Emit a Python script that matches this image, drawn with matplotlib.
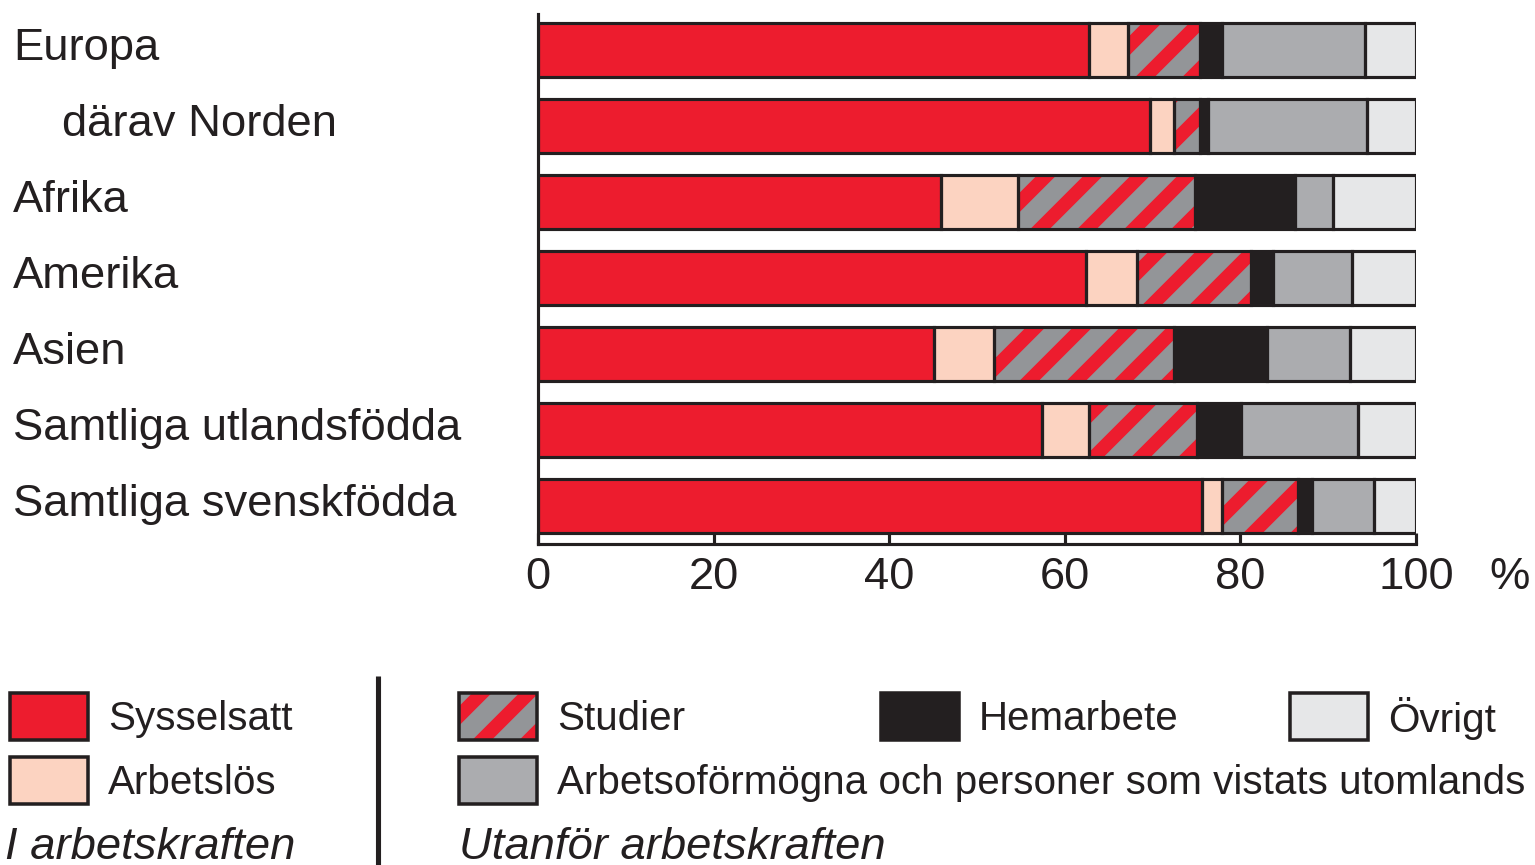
import matplotlib
matplotlib.use("Agg")
import matplotlib.pyplot as plt
from matplotlib.patches import Rectangle
import numpy as np

# data (percent)
regions = ["Europa", "därav Norden", "Afrika", "Amerika", "Asien",
           "Samtliga utlandsfödda", "Samtliga svenskfödda"]
sysselsatt = [62.7, 69.7, 45.9, 62.4, 45.1, 57.4, 75.6]
arbetslos = [4.5, 2.7, 8.8, 5.8, 6.8, 5.3, 2.3]
studier = [8.2, 3.0, 20.1, 13.0, 20.5, 12.3, 8.7]
hemarbete = [2.5, 0.9, 11.4, 2.5, 10.6, 5.1, 1.5]
arbetsof = [16.3, 18.1, 4.4, 9.0, 9.5, 13.3, 7.1]
ovrigt = [5.8, 5.6, 9.4, 7.3, 7.5, 6.6, 4.8]
xticks = [0, 20, 40, 60, 80, 100]

RED = "#ED1C2E"
PEACH = "#FCD3C1"
STRIPE = "#939598"
DARK = "#231F20"
GRAY = "#ABACAF"
LIGHT = "#E6E7E8"

DPI = 282  # high dpi so the hatch stripes get wide enough
plt.rcParams['font.family'] = ['Liberation Sans', 'DejaVu Sans']
plt.rcParams['hatch.linewidth'] = 3.5
FS = 11.6
LFS = 10.3
EW = 0.8
HATCH = "//"

fig = plt.figure(figsize=(1535 / DPI, 865 / DPI), dpi=DPI)
ax = fig.add_axes([538 / 1535, 1 - 544 / 865, 878 / 1535, 530 / 865])

y = np.arange(len(regions))
series = [(sysselsatt, RED, None), (arbetslos, PEACH, None), (studier, STRIPE, HATCH),
          (hemarbete, DARK, None), (arbetsof, GRAY, None), (ovrigt, LIGHT, None)]
left = np.zeros(len(regions))
H = 0.71
for vals, col, hatch in series:
    vals = np.array(vals)
    if hatch:
        ax.barh(y, vals, left=left, height=H, color=col, edgecolor=RED,
                hatch=hatch, linewidth=0, zorder=2)
    else:
        ax.barh(y, vals, left=left, height=H, color=col, linewidth=0, zorder=2)
    ax.barh(y, vals, left=left, height=H, fill=False, edgecolor=DARK,
            linewidth=EW, zorder=3)
    left += vals

ax.set_xlim(0, 100)
ax.set_ylim(6.5, -0.47)
ax.set_yticks([])
ax.set_xticks(xticks)
ax.set_xticklabels([str(t) for t in xticks])
ax.tick_params(axis='x', direction='in', length=2.8, width=EW, color=DARK,
               labelsize=FS, pad=3.3, labelcolor=DARK)
for s in ["top", "right"]:
    ax.spines[s].set_visible(False)
for s in ["left", "bottom"]:
    ax.spines[s].set_linewidth(EW)
    ax.spines[s].set_color(DARK)
ax.text(1.107, -0.0245, "%", transform=ax.transAxes, ha='center', va='top',
        fontsize=FS, color=DARK)

# category labels on the left
trans = matplotlib.transforms.blended_transform_factory(fig.transFigure, ax.transData)
for i, name in enumerate(regions):
    xpos = 62 if name.startswith("därav") else 13
    ax.text(xpos / 1535, i - 0.02, name, transform=trans, ha='left', va='center',
            fontsize=FS, color=DARK)

# legend drawn in pixel coordinates
lax = fig.add_axes([0, 0, 1, 1], facecolor='none')
lax.set_xlim(0, 1535)
lax.set_ylim(865, 0)
lax.axis('off')

legend_items = [
    ("Sysselsatt", RED, None, 10, 693),
    ("Arbetslös", PEACH, None, 10, 757),
    ("Studier", STRIPE, HATCH, 459, 693),
    ("Arbetsoförmögna och personer som vistats utomlands", GRAY, None, 459, 757),
    ("Hemarbete", DARK, None, 881, 693),
    ("Övrigt", LIGHT, None, 1290, 693),
]
for label, col, hatch, bx, by in legend_items:
    if hatch:
        lax.add_patch(Rectangle((bx, by), 78, 47, facecolor=col, edgecolor=RED,
                                hatch=hatch, linewidth=0))
    else:
        lax.add_patch(Rectangle((bx, by), 78, 47, facecolor=col, linewidth=0))
    lax.add_patch(Rectangle((bx, by), 78, 47, fill=False, edgecolor=DARK, linewidth=0.9))
    lax.text(bx + 98, by + 26, label, ha='left', va='center', fontsize=LFS, color=DARK)

lax.plot([378, 378], [676, 865], color=DARK, linewidth=1.3, solid_capstyle='butt')
lax.text(5, 859, "I arbetskraften", ha='left', va='baseline', fontsize=FS,
         style='italic', color=DARK)
lax.text(459, 859, "Utanför arbetskraften", ha='left', va='baseline', fontsize=FS,
         style='italic', color=DARK)

fig.savefig("out.png", dpi=DPI, facecolor='white')
